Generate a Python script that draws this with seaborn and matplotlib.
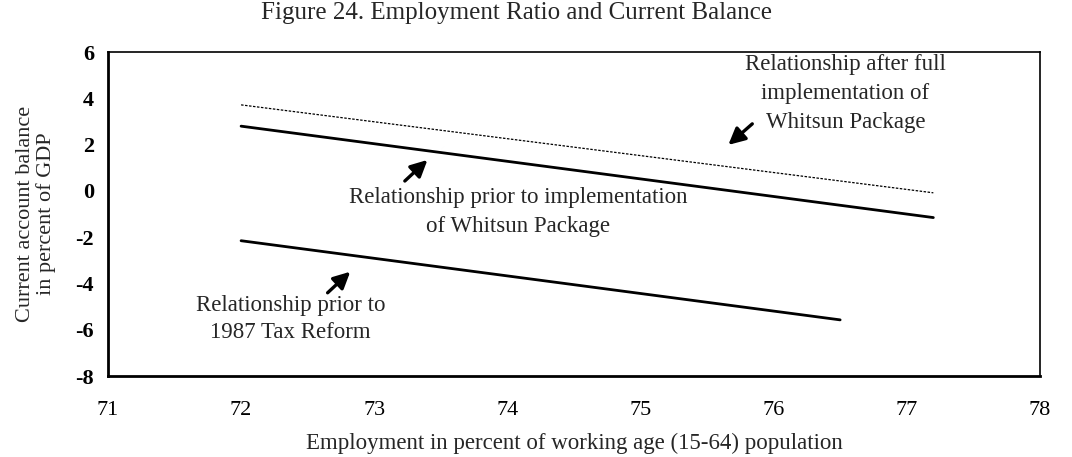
import pandas as pd
import matplotlib.pyplot as plt
import seaborn as sns

# Line end points
x_after = [72.0, 77.2]
y_after = [3.72, -0.08]
x_prior = [72.0, 77.2]
y_prior = [2.8, -1.15]
x_1987 = [72.0, 76.5]
y_1987 = [-2.15, -5.57]

xticks = [71, 72, 73, 74, 75, 76, 77, 78]
yticks = [6, 4, 2, 0, -2, -4, -6, -8]

df = pd.concat([
    pd.DataFrame({'x': x_after, 'y': y_after, 'rel': 'after'}),
    pd.DataFrame({'x': x_prior, 'y': y_prior, 'rel': 'prior'}),
    pd.DataFrame({'x': x_1987, 'y': y_1987, 'rel': '1987'}),
])

sns.set_style('white')
plt.rcParams['font.family'] = ['Liberation Serif', 'DejaVu Serif']

fig = plt.figure(figsize=(10.72, 4.57), dpi=100)
ax = fig.add_axes([0.1007, 0.177, 0.8693, 0.709])

styles = {
    'after': dict(color='black', lw=0.9, ls=(0, (2, 1.2))),
    'prior': dict(color='black', lw=2.0, ls='-'),
    '1987': dict(color='black', lw=2.0, ls='-'),
}
for rel, st in styles.items():
    sns.lineplot(data=df[df['rel'] == rel], x='x', y='y', ax=ax, legend=False, **st)

ax.set_xlim(71, 78)
ax.set_ylim(-8, 6)
ax.set_xticks(xticks)
ax.set_yticks(yticks)
ax.set_xticklabels([str(t) for t in xticks], fontsize=16)
ax.set_yticklabels([str(t) for t in yticks], fontsize=16, fontweight='bold')
ax.tick_params(direction='in', length=5, width=1.5, colors='black')
ax.tick_params(axis='x', pad=18)
ax.tick_params(axis='y', pad=10)

for side in ['left', 'bottom']:
    ax.spines[side].set_linewidth(2.0)
for side in ['top', 'right']:
    ax.spines[side].set_linewidth(1.2)
for sp in ax.spines.values():
    sp.set_color('black')

ax.set_xlabel('Employment in percent of working age (15-64) population', fontsize=16.5, labelpad=9)
ax.set_ylabel('Current account balance\nin percent of GDP', fontsize=16, labelpad=14, linespacing=1.05)
fig.text(0.482, 0.972, 'Figure 24. Employment Ratio and Current Balance', fontsize=18, ha='center', va='center')

arrow = dict(arrowstyle='-|>,head_length=1.0,head_width=0.5', color='black', lw=2.4, shrinkA=0, shrinkB=0)
ax.annotate('', xy=(73.40, 1.34), xytext=(73.23, 0.43), arrowprops=arrow)
ax.annotate('', xy=(75.66, 1.99), xytext=(75.84, 2.9), arrowprops=arrow)
ax.annotate('', xy=(72.82, -3.49), xytext=(72.65, -4.40), arrowprops=arrow)

ax.text(76.54, 4.2, 'Relationship after full\nimplementation of\nWhitsun Package', ha='center', va='center',
        fontsize=16.5, linespacing=1.5)
ax.text(74.08, -0.91, 'Relationship prior to implementation\nof Whitsun Package', ha='center', va='center',
        fontsize=16.5, linespacing=1.5)
ax.text(72.37, -5.54, 'Relationship prior to\n1987 Tax Reform', ha='center', va='center',
        fontsize=16.5, linespacing=1.4)

fig.savefig('out.png', dpi=100)
